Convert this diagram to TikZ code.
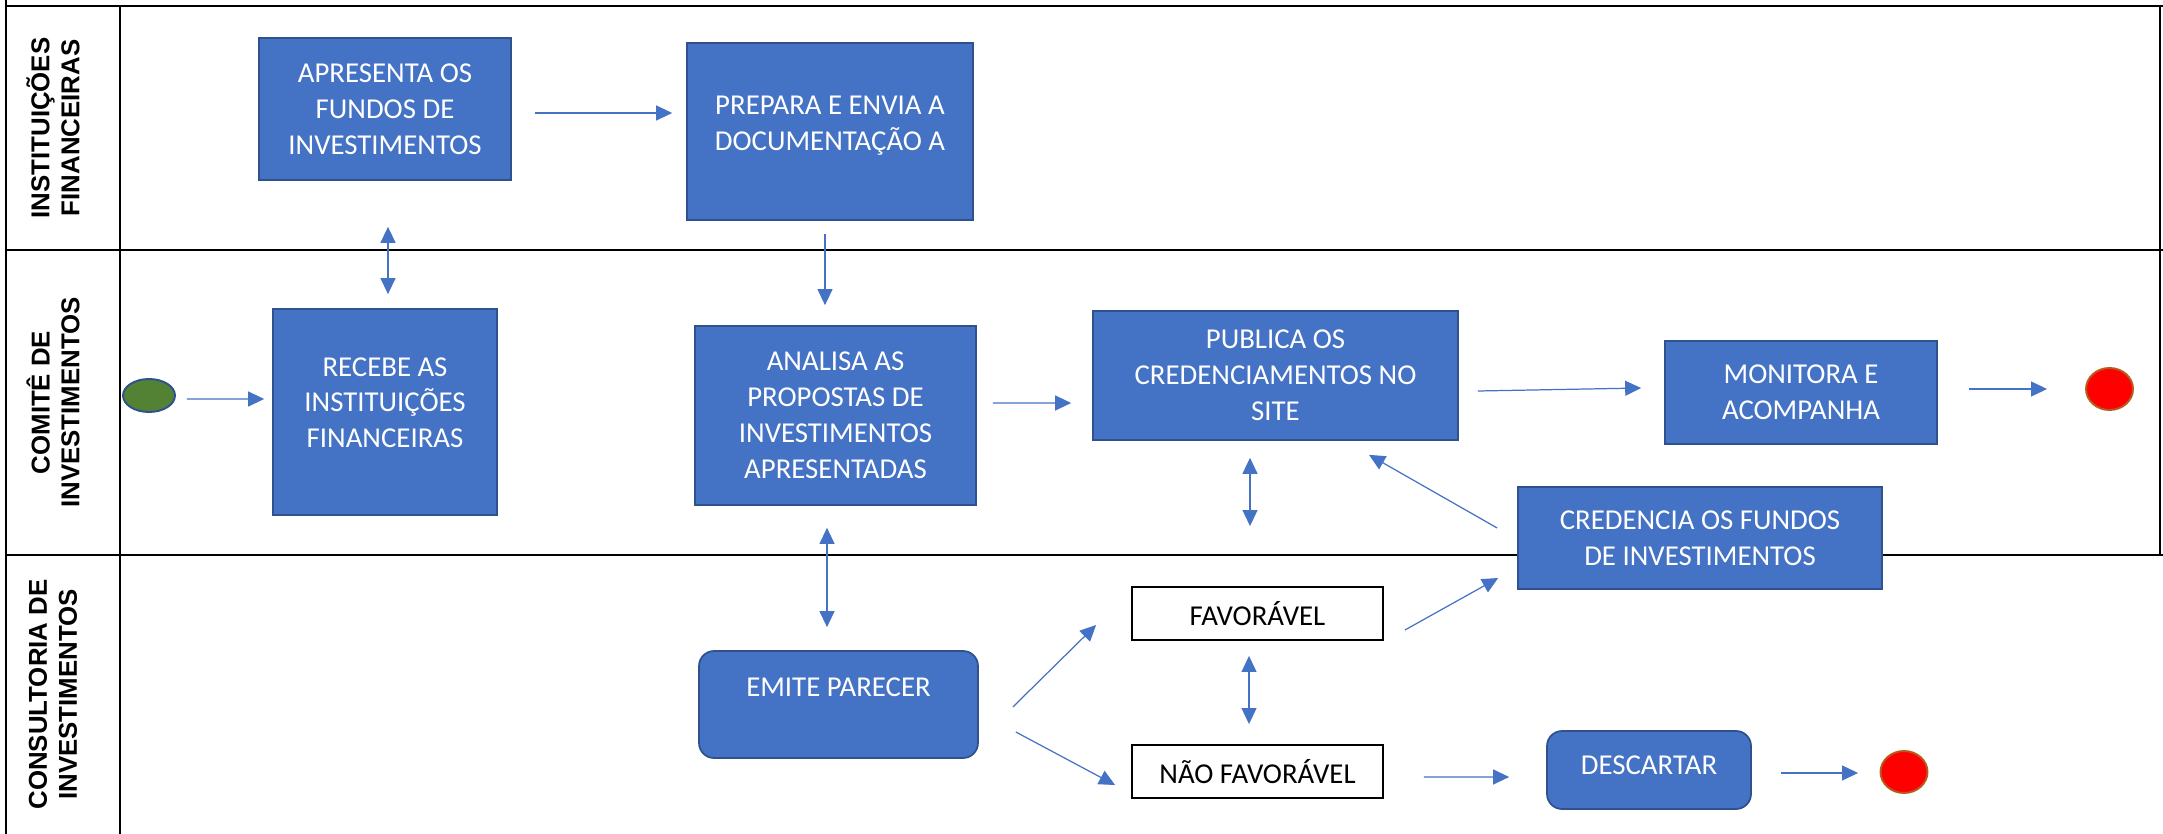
\documentclass[tikz,border=0pt]{standalone}
\usepackage{fontspec}
\setmainfont{Carlito}
\newfontfamily\lanefont{Liberation Sans}
\usetikzlibrary{arrows.meta}
\usetikzlibrary{calc}
\usetikzlibrary{shapes.geometric}

\definecolor{actblue}{HTML}{4472C4}
\definecolor{actedge}{HTML}{2F528F}
\definecolor{startgreen}{HTML}{548235}
\definecolor{endred}{HTML}{FF0000}
\definecolor{endedge}{HTML}{B85C1E}

\tikzset{
    laneline/.style={line width=1.2pt, black},
    lanelabel/.style={rotate=90, align=center, font=\lanefont\bfseries\fontsize{14.7}{17}\selectfont},
    activity/.style={rectangle, draw=actedge, fill=actblue, line width=1pt, text=white, align=center, inner sep=2pt, font=\fontsize{16.4}{20.4}\selectfont},
    roundact/.style={activity, rounded corners=0.3cm},
    outcome/.style={rectangle, draw=black, fill=white, line width=1.1pt, inner sep=2pt, minimum width=5.02cm, minimum height=1.06cm, font=\fontsize{16.4}{20.4}\selectfont},
    startev/.style={ellipse, draw=actedge, fill=startgreen, line width=1.1pt, inner sep=0pt, minimum width=1.04cm, minimum height=0.66cm},
    endev/.style={ellipse, draw=endedge, fill=endred, line width=1.1pt, inner sep=0pt, minimum width=0.94cm, minimum height=0.84cm},
    seqflow/.style={draw=actblue, line width=0.7pt, -{Triangle[length=0.32cm, width=0.3cm]}},
    bothflow/.style={seqflow, {Triangle[length=0.32cm, width=0.3cm]}-{Triangle[length=0.32cm, width=0.3cm]}},
}

\begin{document}
\begin{tikzpicture}[x=0.02cm, y=-0.02cm]
    \useasboundingbox (0,0) rectangle (2163,834);

    \draw[laneline] (6,0) -- (6,834);
    \draw[laneline] (120,6) -- (120,834);
    \draw[laneline] (6,6) -- (2163,6);
    \draw[laneline] (6,250) -- (2163,250);
    \draw[laneline] (6,555) -- (2163,555);
    \draw[laneline] (2160,6) -- (2160,555);

    \node[lanelabel] (lblinst) at (53,128) {INSTITUIÇÕES\\FINANCEIRAS};
    \node[lanelabel] (lblcomite) at (53,402.5) {COMITÊ DE\\INVESTIMENTOS};
    \node[lanelabel] (lblconsult) at (53,694.5) {CONSULTORIA DE\\INVESTIMENTOS};

    \node[activity, minimum width=5.04cm, minimum height=2.84cm] (apresenta) at (385,109) {APRESENTA OS\\FUNDOS DE\\INVESTIMENTOS};
    \node[activity, minimum width=5.72cm, minimum height=3.54cm] (prepara) at (830,131.5) {PREPARA E ENVIA A\\DOCUMENTAÇÃO A\\[-11.2pt]\mbox{}};
    \node[startev] (inicio) at (149,395.5) {};
    \node[activity, minimum width=4.48cm, minimum height=4.12cm] (recebe) at (385,412) {RECEBE AS\\INSTITUIÇÕES\\FINANCEIRAS\\[-9.6pt]\mbox{}};
    \node[activity, minimum width=5.62cm, minimum height=3.58cm] (analisa) at (835.5,415.5) {ANALISA AS\\PROPOSTAS DE\\INVESTIMENTOS\\APRESENTADAS};
    \node[activity, minimum width=7.3cm, minimum height=2.58cm] (publica) at (1275.5,375.5) {PUBLICA OS\\CREDENCIAMENTOS NO\\SITE};
    \node[activity, minimum width=5.44cm, minimum height=2.06cm] (monitora) at (1801,392.5) {MONITORA E\\ACOMPANHA};
    \node[endev] (fim) at (2109.5,389) {};
    \node[activity, minimum width=7.28cm, minimum height=2.04cm] (credencia) at (1700,538) {CREDENCIA OS FUNDOS\\DE INVESTIMENTOS};
    \node[roundact, minimum width=5.58cm, minimum height=2.14cm, text depth=0.7cm] (emite) at (838.5,704.5) {EMITE PARECER};
    \node[outcome] (favoravel) at (1257.5,613.5) {FAVORÁVEL};
    \node[outcome] (naofav) at (1257.5,771.5) {NÃO FAVORÁVEL};
    \node[roundact, minimum width=4.08cm, minimum height=1.56cm, text depth=0.2cm] (descartar) at (1649,770) {DESCARTAR};
    \node[endev] (fimdescarte) at (1904,772) {};

    \draw[seqflow] ($(apresenta.east)+(23,4)$) -- ($(prepara.west)+(-14,-18.5)$);
    \draw[bothflow] ($(apresenta.south)+(3,46)$) -- ($(recebe.north)+(3,-14)$);
    \draw[seqflow] ($(prepara.south)+(-5,13)$) -- ($(analisa.north)+(-10.5,-20)$);
    \draw[seqflow] ($(inicio.east)+(11,3.5)$) -- ($(recebe.west)+(-8,-13)$);
    \draw[seqflow] ($(analisa.east)+(16,-12.5)$) -- ($(publica.west)+(-21,27.5)$);
    \draw[seqflow] ($(publica.east)+(19,15.5)$) -- ($(monitora.west)+(-23,-4.5)$);
    \draw[seqflow] ($(monitora.east)+(31,-3.5)$) -- ($(fim.west)+(-38,0)$);
    \draw[seqflow] ($(credencia.west)+(-20,-10)$) -- ($(publica.south)+(93.5,14)$);
    \draw[bothflow] ($(publica.south)+(-25.5,17)$) -- ($(favoravel.north)+(-7.5,-60)$);
    \draw[bothflow] ($(analisa.south)+(-8.5,22)$) -- ($(emite.north)+(-11.5,-23)$);
    \draw[seqflow] ($(emite.east)+(34,2.5)$) -- ($(favoravel.west)+(-35,11.5)$);
    \draw[seqflow] ($(emite.east)+(37,27.5)$) -- ($(naofav.west)+(-16,13.5)$);
    \draw[bothflow] ($(favoravel.south)+(-8.5,15)$) -- ($(naofav.north)+(-8.5,-20)$);
    \draw[seqflow] ($(favoravel.east)+(21,16.5)$) -- ($(credencia.west)+(-19,40)$);
    \draw[seqflow] ($(naofav.east)+(40,5.5)$) -- ($(descartar.west)+(-37,7)$);
    \draw[seqflow] ($(descartar.east)+(29,3)$) -- ($(fimdescarte.west)+(-21.5,1)$);
\end{tikzpicture}
\end{document}
